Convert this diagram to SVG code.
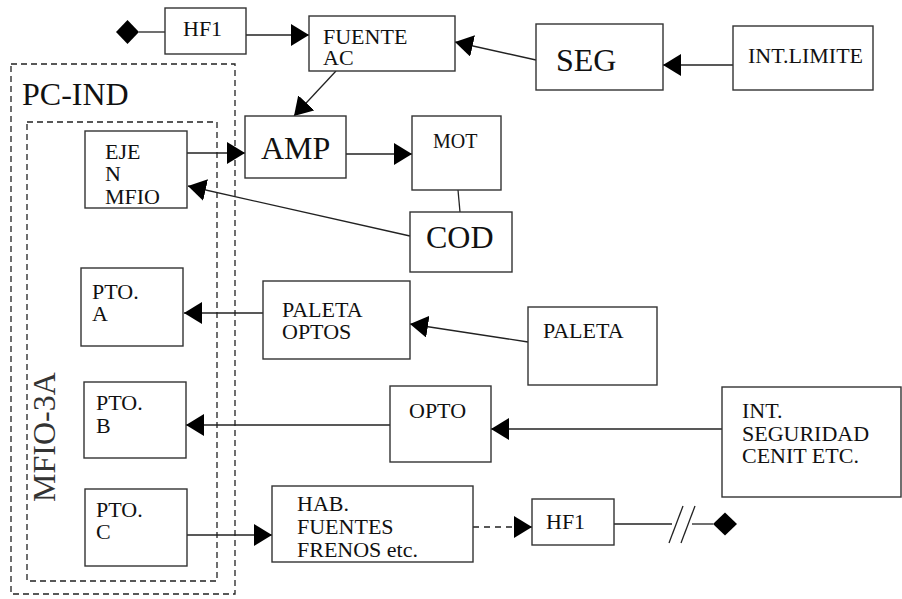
<svg xmlns="http://www.w3.org/2000/svg" width="902" height="599" viewBox="0 0 902 599">
<style>
.box{fill:#fff;stroke:#333;stroke-width:1.4}
.dash{fill:none;stroke:#222;stroke-width:1.3;stroke-dasharray:6 4}
.t{font-family:"Liberation Serif","Times New Roman",serif;font-size:22px;fill:#111}
.big{font-family:"Liberation Serif","Times New Roman",serif;font-size:32px;fill:#111}
.ln{fill:none;stroke:#222;stroke-width:1.3}
.arr{marker-end:url(#ah)}
</style>
<defs>
<marker id="ah" markerUnits="userSpaceOnUse" viewBox="0 0 18 22" markerWidth="18" markerHeight="22" refX="18" refY="11" orient="auto">
<path d="M0,0 L18,11 L0,22 z" fill="#000"/>
</marker>
</defs>
<rect width="902" height="599" fill="#fff"/>

<g id="pc-ind">
<rect class="dash" x="11" y="64" width="224" height="530"/>
<text class="big" x="22" y="105">PC-IND</text>
</g>
<g id="mfio-3a">
<rect class="dash" x="27" y="122" width="190" height="459"/>
<text class="big" transform="translate(55,502) rotate(-90)" style="fill:#333">MFIO-3A</text>
</g>

<g id="connectors">
<line class="ln" x1="139" y1="32" x2="165" y2="32"/>
<path d="M116,32 L127.5,20 L139,32 L127.5,44 z" fill="#000"/>
<line class="ln arr" x1="246" y1="35" x2="309" y2="35"/>
<line class="ln arr" x1="536" y1="60" x2="455" y2="42"/>
<line class="ln arr" x1="733" y1="65" x2="663" y2="65"/>
<line class="ln arr" x1="336" y1="71" x2="294" y2="116"/>
<line class="ln arr" x1="187" y1="153" x2="245" y2="153"/>
<line class="ln arr" x1="346" y1="154" x2="412" y2="154"/>
<line class="ln" x1="458" y1="190" x2="460" y2="212"/>
<line class="ln arr" x1="410" y1="236" x2="188" y2="186"/>
<line class="ln arr" x1="263" y1="313" x2="184" y2="313"/>
<line class="ln arr" x1="528" y1="342" x2="410" y2="324"/>
<line class="ln arr" x1="390" y1="425" x2="186" y2="425"/>
<line class="ln arr" x1="722" y1="429" x2="491" y2="429"/>
<line class="ln arr" x1="187" y1="535" x2="272" y2="535"/>
<line class="ln arr" x1="473" y1="527" x2="532" y2="527" stroke-dasharray="6 5"/>
<line class="ln" x1="614" y1="524" x2="672" y2="524"/>
<line class="ln" x1="692" y1="524" x2="713" y2="524"/>
<line class="ln" x1="669" y1="543" x2="683" y2="506"/>
<line class="ln" x1="681" y1="543" x2="695" y2="506"/>
<path d="M713,524 L725,512.5 L737,524 L725,535.5 z" fill="#000"/>
</g>

<g id="hf1-top"><rect class="box" x="165" y="8" width="81" height="46"/><text class="t" x="183" y="36">HF1</text></g>
<g id="fuente-ac"><rect class="box" x="309" y="16" width="146" height="55"/><text class="t" x="323" y="44">FUENTE</text><text class="t" x="323" y="65">AC</text></g>
<g id="seg"><rect class="box" x="536" y="24" width="127" height="66"/><text class="big" x="556" y="71">SEG</text></g>
<g id="int-limite"><rect class="box" x="733" y="26" width="140" height="64"/><text class="t" x="748" y="63">INT.LIMITE</text></g>
<g id="eje-n-mfio"><rect class="box" x="85" y="131" width="102" height="77"/><text class="t" x="105" y="159">EJE</text><text class="t" x="105" y="181">N</text><text class="t" x="105" y="204">MFIO</text></g>
<g id="amp"><rect class="box" x="245" y="116" width="101" height="62"/><text class="big" x="261" y="159">AMP</text></g>
<g id="mot"><rect class="box" x="412" y="116" width="89" height="74"/><text class="t" x="433" y="148" style="font-size:20px">MOT</text></g>
<g id="cod"><rect class="box" x="410" y="212" width="102" height="60"/><text class="big" x="426" y="248">COD</text></g>
<g id="pto-a"><rect class="box" x="81" y="268" width="102" height="78"/><text class="t" x="92" y="299">PTO.</text><text class="t" x="92" y="321">A</text></g>
<g id="paleta-optos"><rect class="box" x="263" y="281" width="147" height="78"/><text class="t" x="282" y="317">PALETA</text><text class="t" x="282" y="339">OPTOS</text></g>
<g id="paleta"><rect class="box" x="528" y="307" width="129" height="78"/><text class="t" x="543" y="338">PALETA</text></g>
<g id="pto-b"><rect class="box" x="84" y="382" width="102" height="76"/><text class="t" x="96" y="410">PTO.</text><text class="t" x="96" y="433">B</text></g>
<g id="opto"><rect class="box" x="390" y="386" width="101" height="76"/><text class="t" x="409" y="418">OPTO</text></g>
<g id="int-seguridad"><rect class="box" x="722" y="387" width="179" height="110"/><text class="t" x="742" y="418">INT.</text><text class="t" x="742" y="441">SEGURIDAD</text><text class="t" x="742" y="463">CENIT ETC.</text></g>
<g id="pto-c"><rect class="box" x="85" y="489" width="102" height="77"/><text class="t" x="96" y="517">PTO.</text><text class="t" x="96" y="539">C</text></g>
<g id="hab"><rect class="box" x="272" y="486" width="201" height="76"/><text class="t" x="297" y="511">HAB.</text><text class="t" x="297" y="534">FUENTES</text><text class="t" x="297" y="557">FRENOS etc.</text></g>
<g id="hf1-bottom"><rect class="box" x="532" y="499" width="82" height="46"/><text class="t" x="546" y="529">HF1</text></g>
</svg>
